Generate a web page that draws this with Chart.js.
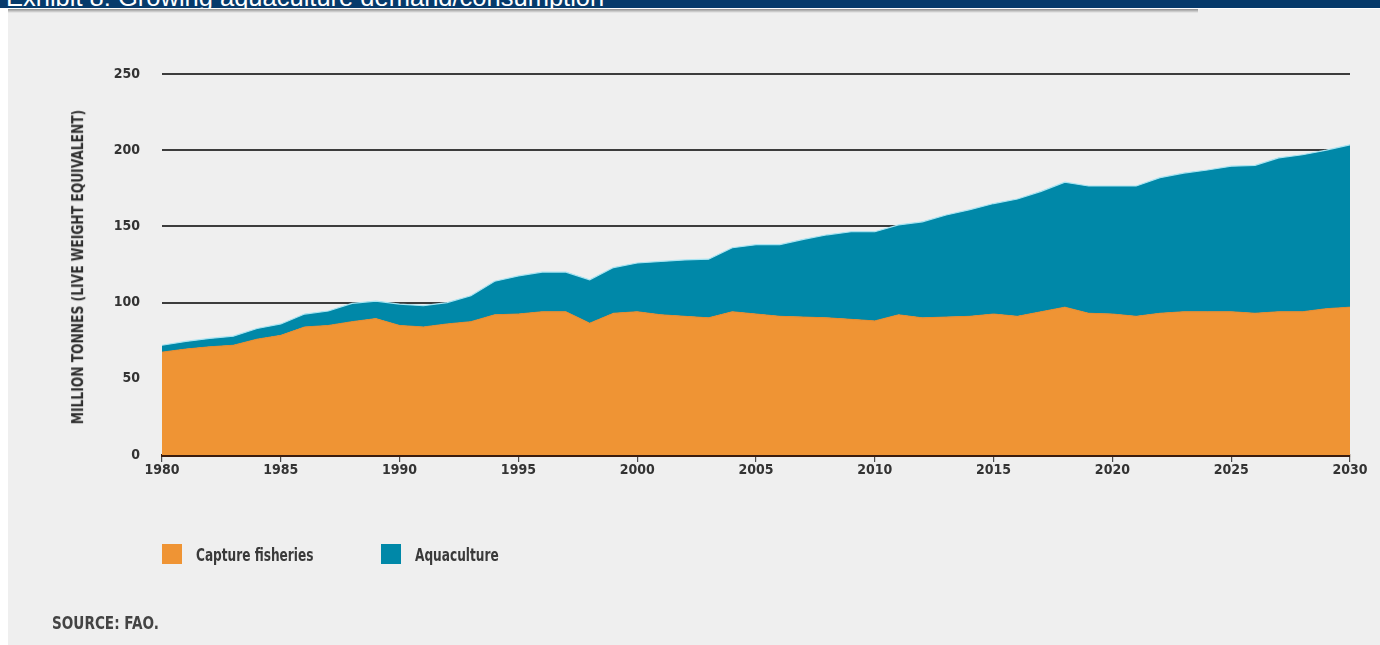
<!DOCTYPE html>
<html>
<head>
<meta charset="utf-8">
<script src="https://cdn.jsdelivr.net/npm/chart.js@4.4.1/dist/chart.umd.min.js"></script>
<style>
  html, body { margin: 0; padding: 0; background: #ffffff; }
  body { width: 1380px; height: 645px; position: relative; overflow: hidden; }
  #banner { position: absolute; left: 0; top: 0; width: 1380px; height: 8px; background: #063a6b; overflow: hidden; }
  #banner span { position: absolute; left: 6px; top: -15px; font-family: "Liberation Sans", Arial, sans-serif; font-size: 25.5px; line-height: 25.5px; color: #ffffff; white-space: nowrap; }
  #panel { position: absolute; left: 8px; top: 9px; width: 1372px; height: 636px; background: #efefef; }
  #shadow { position: absolute; left: 8px; top: 9px; width: 1190px; height: 4px; background: linear-gradient(#8f8f8f, #efefef); }
  #chart { position: absolute; left: 0; top: 0; }
  .narrow { font-family: "Liberation Sans Narrow", "DejaVu Sans Condensed", sans-serif; font-weight: bold; color: #3a3a3a; }
  #ytitle { position: absolute; left: 78px; top: 267px; transform: translate(-50%, -50%) rotate(-90deg) scale(0.91, 1.1); font-size: 15px; white-space: nowrap; color: #2e2e2e; }
  #legend { position: absolute; left: 162px; top: 543px; height: 22px; display: flex; align-items: center; font-size: 18px; }
  #legend .item { display: flex; align-items: center; margin-right: 68px; }
  #legend .box { width: 20px; height: 20px; margin-right: 14px; }
  #legend .txt, #source .txt { display: inline-block; white-space: nowrap; transform-origin: 0 50%; }
  #source { position: absolute; left: 52px; top: 612px; font-size: 18px; color: #444; }
</style>
</head>
<body>
<div id="panel"></div>
<div id="shadow"></div>
<div id="banner"><span>Exhibit 8: Growing aquaculture demand/consumption</span></div>
<canvas id="chart" width="1380" height="645"></canvas>
<div id="ytitle" class="narrow">MILLION TONNES (LIVE WEIGHT EQUIVALENT)</div>
<div id="legend" class="narrow"></div>
<div id="source" class="narrow"><span class="txt">SOURCE: FAO.</span></div>
<script>
const years = [1980,1981,1982,1983,1984,1985,1986,1987,1988,1989,
               1990,1991,1992,1993,1994,1995,1996,1997,1998,1999,
               2000,2001,2002,2003,2004,2005,2006,2007,2008,2009,
               2010,2011,2012,2013,2014,2015,2016,2017,2018,2019,
               2020,2021,2022,2023,2024,2025,2026,2027,2028,2029,2030];
const xTickLabels = [1980,1985,1990,1995,2000,2005,2010,2015,2020,2025,2030];
const yTickValues = [0,50,100,150,200,250];

const captureFisheries = [67.5,69.5,71,72,76,78.5,84,85,87.5,89.5,
                          85,84,86,87.5,92,92.5,94,94,86.5,93,
                          94,92,91,90,94,92.5,91,90.5,90,89,
                          88,92,90,90.5,91,92.5,91,94,97,93,
                          92.5,91,93,94,94,94,93,94,94,96,97];
const aquaculture = [4.5,5,5.5,6,7,7.5,8.5,9.5,12,11.5,
                     14,14,14,17,22,25,26,26,28.5,30,
                     32,35,37,38.5,42,45.5,47,51,54.5,57.5,
                     58.5,59,63,67,70,72.5,77,79,82,83.5,
                     84,85.5,89,91,93,95.5,97,101,103,104,106.5];

const seriesNames = ['Capture fisheries', 'Aquaculture'];
const seriesColors = ['#ef9434', '#0088a8'];

const narrowFont = '"Liberation Sans Narrow", "DejaVu Sans Condensed", sans-serif';

const chart = new Chart(document.getElementById('chart'), {
  type: 'line',
  data: {
    labels: years,
    datasets: [
      { label: seriesNames[0], data: captureFisheries, backgroundColor: seriesColors[0],
        borderColor: '#e88a2c', borderWidth: 1, fill: 'origin', pointRadius: 0, tension: 0 },
      { label: seriesNames[1], data: aquaculture, backgroundColor: seriesColors[1],
        borderColor: '#a8e4f2', borderWidth: 1.2, fill: '-1', pointRadius: 0, tension: 0 }
    ]
  },
  options: {
    responsive: false,
    animation: false,
    layout: { padding: { left: 0, top: 74, right: 30, bottom: 0 } },
    plugins: { legend: { display: false }, tooltip: { enabled: false } },
    scales: {
      x: {
        type: 'linear',
        min: 1980, max: 2030,
        afterFit: s => { s.height = 190; },
        afterBuildTicks: s => { s.ticks = xTickLabels.map(v => ({ value: v })); },
        grid: { drawOnChartArea: false, drawTicks: true, tickLength: 7, color: '#4a4a4a', lineWidth: 1.2 },
        border: { display: true, color: '#3a1c0e', width: 3 },
        ticks: { padding: 0, color: '#333', font: { family: narrowFont, size: 14, weight: 'bold' },
                 callback: v => String(v), maxRotation: 0, autoSkip: false }
      },
      y: {
        stacked: true,
        min: 0, max: 250,
        afterFit: s => { s.width = 162; },
        afterBuildTicks: s => { s.ticks = yTickValues.map(v => ({ value: v })); },
        grid: { drawTicks: false, color: ctx => ctx.tick && ctx.tick.value === 0 ? '#3a1c0e' : '#3c3c3c',
                lineWidth: ctx => ctx.tick && ctx.tick.value === 0 ? 3 : 2 },
        border: { display: false },
        ticks: { padding: 22, color: '#333', font: { family: narrowFont, size: 14, weight: 'bold' } }
      }
    }
  }
});

function squeeze(span, factor) {
  const w = span.getBoundingClientRect().width;
  span.style.transform = 'scaleX(' + factor + ')';
  span.style.width = (w * factor) + 'px';
}

const legend = document.getElementById('legend');
chart.data.datasets.forEach(ds => {
  const item = document.createElement('div');
  item.className = 'item';
  const box = document.createElement('div');
  box.className = 'box';
  box.style.background = ds.backgroundColor;
  const txt = document.createElement('span');
  txt.className = 'txt';
  txt.textContent = ds.label;
  item.appendChild(box);
  item.appendChild(txt);
  legend.appendChild(item);
  squeeze(txt, 0.75);
});
squeeze(document.querySelector('#source .txt'), 0.84);
</script>
</body>
</html>
